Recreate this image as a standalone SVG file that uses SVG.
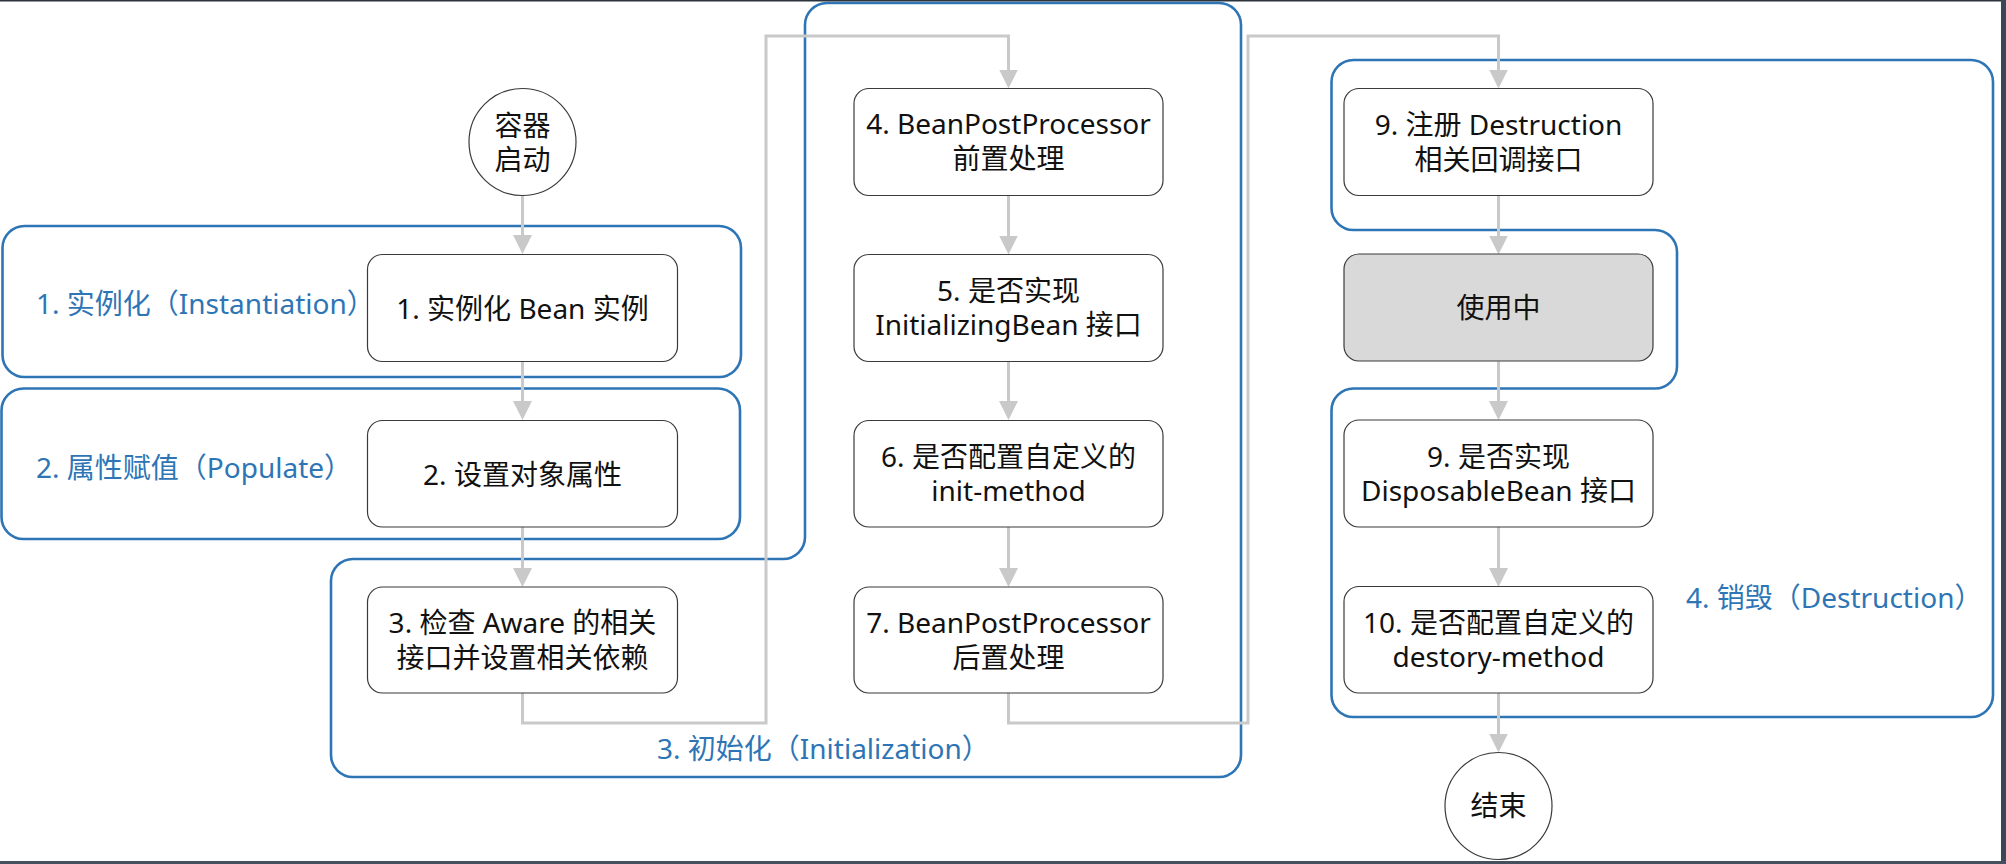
<svg xmlns="http://www.w3.org/2000/svg" width="2006" height="864" viewBox="0 0 2006 864">
<style>
text{font-family:"Noto Sans","Noto Sans CJK SC",sans-serif;font-size:28px;dominant-baseline:central}
.t{fill:#111;text-anchor:middle}
.lbl{fill:#2e75b6}
.node{fill:#fff;stroke:#3a3a3a;stroke-width:1.2}
.grp{fill:none;stroke:#2e75b6;stroke-width:2.6}
.con{fill:none;stroke:#c9c9c9;stroke-width:3}
</style>
<defs>
<marker id="arr" viewBox="0 0 19 19" refX="11" refY="9.5" markerWidth="19" markerHeight="19" markerUnits="userSpaceOnUse" orient="auto">
<path d="M0,0 L19,9.5 L0,19 Z" fill="#c9c9c9"/>
</marker>
</defs>
<rect x="0" y="0" width="2006" height="864" fill="#fff"/>

<g id="group-instantiation">
<rect class="grp" x="2.5" y="226" width="738.5" height="151" rx="22"/>
<text class="lbl" x="36" y="303">1. 实例化（Instantiation）</text>
</g>
<g id="group-populate">
<rect class="grp" x="1.5" y="388.5" width="738.5" height="150.5" rx="22"/>
<text class="lbl" x="36" y="467">2. 属性赋值（Populate）</text>
</g>
<g id="group-initialization">
<path class="grp" d="M827,3 H1219 A22 22 0 0 1 1241,25 V755 A22 22 0 0 1 1219,777 H353 A22 22 0 0 1 331,755 V581 A22 22 0 0 1 353,559 H783 A22 22 0 0 0 805,537 V25 A22 22 0 0 1 827,3 Z"/>
<text class="lbl" x="657" y="748">3. 初始化（Initialization）</text>
</g>
<g id="group-destruction">
<path class="grp" d="M1353.5,60 H1971 A22 22 0 0 1 1993,82 V695 A22 22 0 0 1 1971,717 H1353.5 A22 22 0 0 1 1331.5,695 V410.5 A22 22 0 0 1 1353.5,388.5 H1655 A22 22 0 0 0 1677,366.5 V252 A22 22 0 0 0 1655,230 H1353.5 A22 22 0 0 1 1331.5,208 V82 A22 22 0 0 1 1353.5,60 Z"/>
<text class="lbl" x="1686" y="597">4. 销毁（Destruction）</text>
</g>

<g id="connectors">
<path class="con" marker-end="url(#arr)" d="M522.5,196 V246"/>
<path class="con" marker-end="url(#arr)" d="M522.5,361.5 V412"/>
<path class="con" marker-end="url(#arr)" d="M522.5,527 V579"/>
<path class="con" marker-end="url(#arr)" d="M522.5,693 V723 H766 V36 H1008.5 V80.5"/>
<path class="con" marker-end="url(#arr)" d="M1008.5,195.5 V246.5"/>
<path class="con" marker-end="url(#arr)" d="M1008.5,361.5 V412"/>
<path class="con" marker-end="url(#arr)" d="M1008.5,527 V579"/>
<path class="con" marker-end="url(#arr)" d="M1008.5,693 V723 H1248 V36 H1498.5 V80.5"/>
<path class="con" marker-end="url(#arr)" d="M1498.5,195.5 V246.5"/>
<path class="con" marker-end="url(#arr)" d="M1498.5,361.5 V412"/>
<path class="con" marker-end="url(#arr)" d="M1498.5,527 V579"/>
<path class="con" marker-end="url(#arr)" d="M1498.5,693 V744.5"/>
</g>

<g id="start">
<ellipse class="node" cx="522.5" cy="142" rx="53.5" ry="53.5"/>
<text class="t" x="522.5" y="125">容器</text>
<text class="t" x="522.5" y="159">启动</text>
</g>
<g id="n1">
<rect class="node" x="367.5" y="254.5" width="310" height="107" rx="15"/>
<text class="t" x="522.5" y="308">1. 实例化 Bean 实例</text>
</g>
<g id="n2">
<rect class="node" x="367.5" y="420.5" width="310" height="106.5" rx="15"/>
<text class="t" x="522.5" y="474">2. 设置对象属性</text>
</g>
<g id="n3">
<rect class="node" x="367.5" y="587" width="310" height="106" rx="15"/>
<text class="t" x="522.5" y="622">3. 检查 Aware 的相关</text>
<text class="t" x="522.5" y="657">接口并设置相关依赖</text>
</g>
<g id="n4">
<rect class="node" x="854" y="88.5" width="309" height="107" rx="15"/>
<text class="t" x="1008.5" y="123">4. BeanPostProcessor</text>
<text class="t" x="1008.5" y="158">前置处理</text>
</g>
<g id="n5">
<rect class="node" x="854" y="254.5" width="309" height="107" rx="15"/>
<text class="t" x="1008.5" y="290">5. 是否实现</text>
<text class="t" x="1008.5" y="324">InitializingBean 接口</text>
</g>
<g id="n6">
<rect class="node" x="854" y="420.5" width="309" height="106.5" rx="15"/>
<text class="t" x="1008.5" y="456">6. 是否配置自定义的</text>
<text class="t" x="1008.5" y="490">init-method</text>
</g>
<g id="n7">
<rect class="node" x="854" y="587" width="309" height="106" rx="15"/>
<text class="t" x="1008.5" y="622">7. BeanPostProcessor</text>
<text class="t" x="1008.5" y="657">后置处理</text>
</g>
<g id="n9a">
<rect class="node" x="1344" y="88.5" width="309" height="107" rx="15"/>
<text class="t" x="1498.5" y="124">9. 注册 Destruction</text>
<text class="t" x="1498.5" y="159">相关回调接口</text>
</g>
<g id="inuse">
<rect class="node" x="1344" y="254" width="309" height="107" rx="15" style="fill:#d9d9d9"/>
<text class="t" x="1498.5" y="307">使用中</text>
</g>
<g id="n9b">
<rect class="node" x="1344" y="420" width="309" height="107" rx="15"/>
<text class="t" x="1498.5" y="456">9. 是否实现</text>
<text class="t" x="1498.5" y="490">DisposableBean 接口</text>
</g>
<g id="n10">
<rect class="node" x="1344" y="586.5" width="309" height="106.5" rx="15"/>
<text class="t" x="1498.5" y="622">10. 是否配置自定义的</text>
<text class="t" x="1498.5" y="656">destory-method</text>
</g>
<g id="end">
<ellipse class="node" cx="1498.5" cy="806" rx="53.5" ry="53.5"/>
<text class="t" x="1498.5" y="805">结束</text>
</g>

<rect x="0" y="0" width="2006" height="1.5" fill="#2b333d"/>
<rect x="2001" y="0" width="5" height="864" fill="#3b4755"/>
<rect x="0" y="861" width="2006" height="3" fill="#44505e"/>
</svg>
